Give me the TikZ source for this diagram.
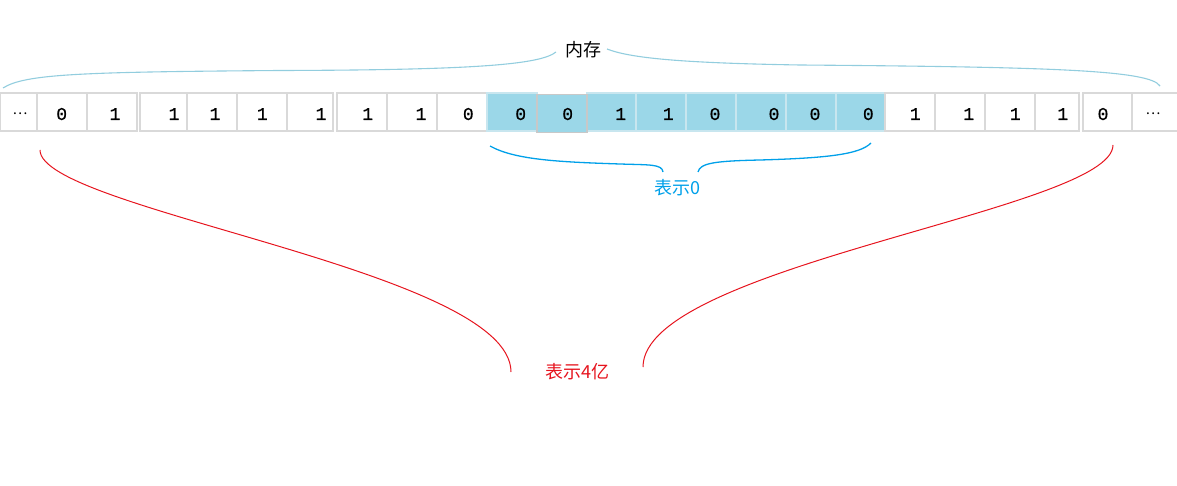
\documentclass[tikz,border=0pt]{standalone}
\usepackage{fontspec}
\newfontfamily\cjk{Noto Sans CJK SC}
\newfontfamily\digitfont[FakeBold=0.8]{Liberation Mono}
\definecolor{cellgrey}{RGB}{217,217,217}
\definecolor{cellblue}{RGB}{155,215,232}
\definecolor{bluesep}{RGB}{200,230,239}
\definecolor{memblue}{RGB}{146,205,222}
\definecolor{zeroblue}{RGB}{0,160,233}
\definecolor{fourred}{RGB}{230,20,30}
\tikzset{
  cellbox/.style={draw=cellgrey, line width=1.3pt, inner sep=0pt, outer sep=0pt, minimum height=38pt, anchor=west},
  bluecell/.style={cellbox, fill=cellblue, draw=bluesep},
  greycell/.style={cellbox, fill=cellblue, draw=cellgrey!92!black},
  digit/.style={font=\digitfont\fontsize{18}{18}\selectfont, anchor=base, inner sep=0pt},
  dots/.style={font=\cjk\fontsize{14}{14}\selectfont, anchor=base, inner sep=0pt},
  lbl/.style={font=\cjk\fontsize{18}{18}\selectfont, inner sep=0pt},
  membrace/.style={draw=memblue, line width=1.1pt},
  zerobrace/.style={draw=zeroblue, line width=1.3pt},
  fourbrace/.style={draw=fourred, line width=1pt}
}
\begin{document}
\begin{tikzpicture}[x=1pt,y=-1pt]
\useasboundingbox (0,0) rectangle (1177,486);
% cells
\foreach \i/\a/\b/\s in {1/0/37/cellbox,2/37/87/cellbox,3/87/137/cellbox,4/140/187/cellbox,5/187/237/cellbox,6/237/287/cellbox,7/287/333/cellbox,8/337/387/cellbox,9/387/437/cellbox,10/437/487/cellbox,11/487/537/bluecell,13/587/636/bluecell,14/636/686/bluecell,15/686/736/bluecell,16/736/786/bluecell,17/786/836/bluecell,18/836/885/bluecell,19/885/935/cellbox,20/935/985/cellbox,21/985/1035/cellbox,22/1035/1079/cellbox,23/1083/1132/cellbox,24/1132/1178/cellbox}
  \node[\s, minimum width={\b-\a}] (c\i) at (\a,112) {};
\node[greycell, minimum width=50] (c12) at (537,113.5) {};
% digits
\node[dots] (t1) at (20,115) {…};
\foreach \i/\x/\t in {2/61.7/0,3/115/1,4/174/1,5/215/1,6/262.3/1,7/321/1,8/367.7/1,9/421/1,10/468.3/0,11/520.7/0,12/567.7/0,13/620.7/1,14/668.3/1,15/715/0,16/774/0,17/815/0,18/868.3/0,19/915.3/1,20/968.7/1,21/1015.3/1,22/1062.7/1,23/1103/0}
  \node[digit] (t\i) at (\x,120) {\t};
\node[dots] (t24) at (1153,115) {…};
% labels
\node[lbl] (mem) at (583,50) {内存};
\node[lbl, text=zeroblue] (zero) at (677,188) {表示0};
\node[lbl, text=fourred] (four) at (577,372) {表示4亿};
% brace end points
\coordinate (memL) at (3,88);
\coordinate (memA) at (556,52);
\coordinate (memB) at (607,49);
\coordinate (memR) at (1160,86);
\coordinate (zeroL) at (490,146);
\coordinate (zeroA) at (663,172);
\coordinate (zeroB) at (698,172);
\coordinate (zeroR) at (871,143);
\coordinate (fourL) at (40,150);
\coordinate (fourA) at (511,372);
\coordinate (fourB) at (643,367);
\coordinate (fourR) at (1113,145);
% braces
\draw[membrace] (memL) .. controls (25,74) and (80,72) .. (280,70.5) .. controls (470,70) and (540,65) .. (memA);
\draw[membrace] (memB) .. controls (630,58) and (680,63) .. (800,65) .. controls (1050,67) and (1150,70) .. (memR);
\draw[zerobrace] (zeroL) .. controls (515,160) and (560,162) .. (620,164) .. controls (650,165) and (662,164) .. (zeroA);
\draw[zerobrace] (zeroB) .. controls (700,163) and (715,161) .. (760,160) .. controls (830,158) and (860,154) .. (zeroR);
\draw[fourbrace] (fourL) .. controls (40,210) and (511,270) .. (fourA);
\draw[fourbrace] (fourR) .. controls (1113,210) and (643,265) .. (fourB);
\end{tikzpicture}
\end{document}
